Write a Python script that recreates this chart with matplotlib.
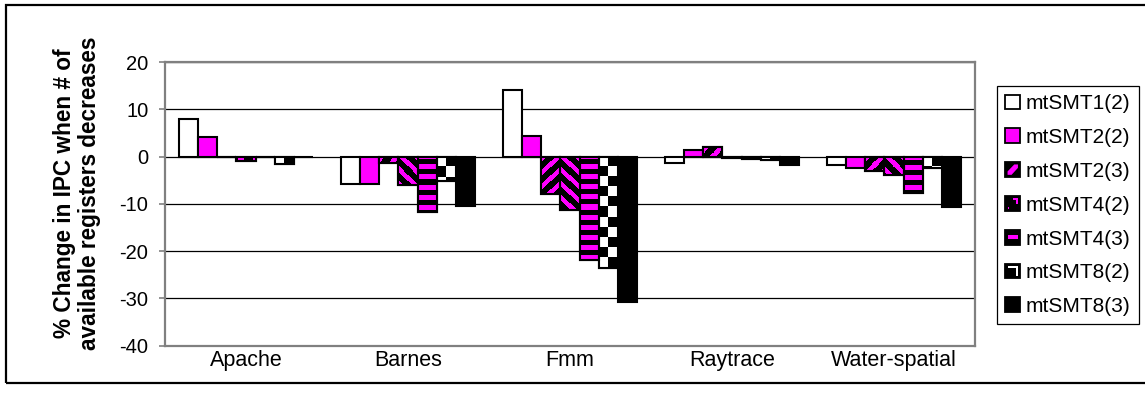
import numpy as np
import matplotlib
matplotlib.use("Agg")
import matplotlib.pyplot as plt
from matplotlib.patches import Rectangle, Polygon
from matplotlib.legend_handler import HandlerBase

plt.rcParams["font.family"] = ["Liberation Sans", "DejaVu Sans"]
plt.rcParams["axes.unicode_minus"] = False

# ---- data -------------------------------------------------------------
categories = ["Apache", "Barnes", "Fmm", "Raytrace", "Water-spatial"]
series_names = ["mtSMT1(2)", "mtSMT2(2)", "mtSMT2(3)", "mtSMT4(2)",
                "mtSMT4(3)", "mtSMT8(2)", "mtSMT8(3)"]

mtsmt1_2 = [7.9, -5.8, 14.0, -1.3, -1.7]
mtsmt2_2 = [4.2, -5.8, 4.3, 1.4, -2.4]
mtsmt2_3 = [0.0, -1.3, -8.0, 2.0, -3.0]
mtsmt4_2 = [-0.9, -6.0, -11.2, -0.4, -3.9]
mtsmt4_3 = [0.0, -11.7, -21.8, -0.5, -7.6]
mtsmt8_2 = [-1.5, -5.1, -23.5, -0.8, -2.5]
mtsmt8_3 = [0.0, -10.4, -30.8, -1.7, -10.6]

series_values = [mtsmt1_2, mtsmt2_2, mtsmt2_3, mtsmt4_2,
                 mtsmt4_3, mtsmt8_2, mtsmt8_3]
y_ticks = [-40, -30, -20, -10, 0, 10, 20]

# ---- styling ------------------------------------------------------------
MAGENTA = (1.0, 0.0, 1.0)
WHITE = (1.0, 1.0, 1.0)
series_styles = ["white", "magenta", "diag_up", "diag_down",
                 "hstripe", "checker", "black"]
base_face = {"white": "white", "magenta": "#ff00ff"}


def pattern_pixels(style, rows, cols):
    """Build an RGB pixel pattern for a patterned bar fill."""
    yy, xx = np.mgrid[0:rows, 0:cols]
    img = np.zeros((rows, cols, 3))
    if style == "diag_up":
        mask = ((xx + yy) % 14) < 6
        fg = MAGENTA
    elif style == "diag_down":
        mask = ((xx - yy) % 14) < 6
        fg = MAGENTA
    elif style == "hstripe":
        mask = ((yy + 2) % 10) < 5
        fg = MAGENTA
    elif style == "checker":
        mask = ((xx // 9) + (yy // 10)) % 2 == 0
        fg = WHITE
    else:
        return None
    img[mask] = fg
    return img


W, H = 1145, 395
fig = plt.figure(figsize=(W / 100, H / 100), dpi=100)
ax_left, ax_right, ax_top, ax_bottom = 165, 975, 62, 345.7
ax = fig.add_axes([ax_left / W, 1 - ax_bottom / H,
                   (ax_right - ax_left) / W, (ax_bottom - ax_top) / H])

x = np.arange(len(categories))
xlim = (-0.5, len(categories) - 0.5)
ylim = (-40, 20)
ax.set_xlim(*xlim)
ax.set_ylim(*ylim)
ax.set_autoscale_on(False)

px_per_x = (ax_right - ax_left) / (xlim[1] - xlim[0])
px_per_y = (ax_bottom - ax_top) / (ylim[1] - ylim[0])

n_series = len(series_values)
bar_w = 0.1185
edge_lw = 1.5

for i, (vals, style) in enumerate(zip(series_values, series_styles)):
    pos = x + (i - (n_series - 1) / 2) * bar_w
    face = base_face.get(style, "black")
    bars = ax.bar(pos, vals, bar_w, color=face, edgecolor="black",
                  linewidth=edge_lw, zorder=2)
    if style in ("diag_up", "diag_down", "hstripe", "checker"):
        for rect in bars:
            x0 = rect.get_x()
            w = rect.get_width()
            h = rect.get_height()
            rows = int(round(abs(h) * px_per_y))
            cols = int(round(w * px_per_x))
            if rows < 1:
                continue
            img = pattern_pixels(style, rows, cols)
            ax.imshow(img, extent=(x0, x0 + w, min(0, h), max(0, h)),
                      origin="upper", aspect="auto",
                      interpolation="nearest", zorder=2.5)
        ax.bar(pos, vals, bar_w, fill=False, edgecolor="black",
               linewidth=edge_lw, zorder=3)

ax.set_xlim(*xlim)
ax.set_ylim(*ylim)

# ---- axes appearance ----------------------------------------------------
ax.set_axisbelow(True)
ax.yaxis.grid(True, color="black", linewidth=0.9)
for side in ("left", "right", "top", "bottom"):
    ax.spines[side].set_color("#808080")
    ax.spines[side].set_linewidth(1.6)

ax.set_yticks(y_ticks)
ax.tick_params(axis="y", direction="out", length=4, width=1.2,
               color="#808080", pad=8, labelsize=14.5)
ax.set_xticks(x, categories)
ax.tick_params(axis="x", length=0, pad=3, labelsize=15.5)

fig.text(77 / W, 1 - 193 / H,
         "% Change in IPC when # of\navailable registers decreases",
         rotation=90, ha="center", va="center", fontsize=16.3,
         fontweight="bold", multialignment="center", linespacing=1.12)


# ---- legend ---------------------------------------------------------------
class SwatchHandler(HandlerBase):
    def __init__(self, style):
        super().__init__()
        self.style = style

    def create_artists(self, legend, orig_handle, xdescent, ydescent,
                       width, height, fontsize, trans):
        s = min(width, height)
        x0, y0 = -xdescent, -ydescent + (height - s) / 2

        def pt(u, v):
            return (x0 + u * s, y0 + v * s)

        face = {"white": "white", "magenta": "#ff00ff"}.get(self.style, "black")
        arts = [Rectangle((x0, y0), s, s, facecolor=face, edgecolor="black",
                          linewidth=1.3, transform=trans)]
        extra = []
        if self.style == "diag_up":
            extra.append(([(0.15, 0.15), (0.42, 0.15), (0.85, 0.62),
                           (0.85, 0.85), (0.6, 0.85), (0.15, 0.38)], "#ff00ff"))
        elif self.style == "diag_down":
            extra.append(([(0.5, 0.85), (0.85, 0.85), (0.85, 0.45),
                           (0.72, 0.45), (0.72, 0.7), (0.5, 0.7)], "#ff00ff"))
            extra.append(([(0.15, 0.15), (0.28, 0.15), (0.28, 0.28),
                           (0.15, 0.28)], "#ff00ff"))
        elif self.style == "hstripe":
            extra.append(([(0.15, 0.35), (0.85, 0.35), (0.85, 0.65),
                           (0.15, 0.65)], "#ff00ff"))
        elif self.style == "checker":
            extra.append(([(0.15, 0.72), (0.85, 0.72), (0.85, 0.85),
                           (0.15, 0.85)], "white"))
            extra.append(([(0.72, 0.15), (0.85, 0.15), (0.85, 0.85),
                           (0.72, 0.85)], "white"))
        for verts, col in extra:
            arts.append(Polygon([pt(u, v) for u, v in verts], closed=True,
                                facecolor=col, edgecolor="none",
                                transform=trans))
        return arts


handles = [Rectangle((0, 0), 1, 1) for _ in series_names]
handler_map = {h: SwatchHandler(st) for h, st in zip(handles, series_styles)}
leg = fig.legend(handles, series_names, handler_map=handler_map,
                 loc="upper left", bbox_to_anchor=(997 / W, 1 - 86 / H),
                 bbox_transform=fig.transFigure, frameon=True, fancybox=False,
                 edgecolor="black", framealpha=1, fontsize=15,
                 handlelength=0.72, handleheight=0.72, handletextpad=0.25,
                 labelspacing=0.71, borderpad=0.4, borderaxespad=0)
leg.get_frame().set_linewidth(0.9)

# outer frame around the chart
fig.patches.append(Rectangle((6 / W, 1 - 383 / H), 1.2, (383 - 5) / H,
                             transform=fig.transFigure, fill=False,
                             edgecolor="black", linewidth=1.6))

fig.savefig("out.png", dpi=100)
